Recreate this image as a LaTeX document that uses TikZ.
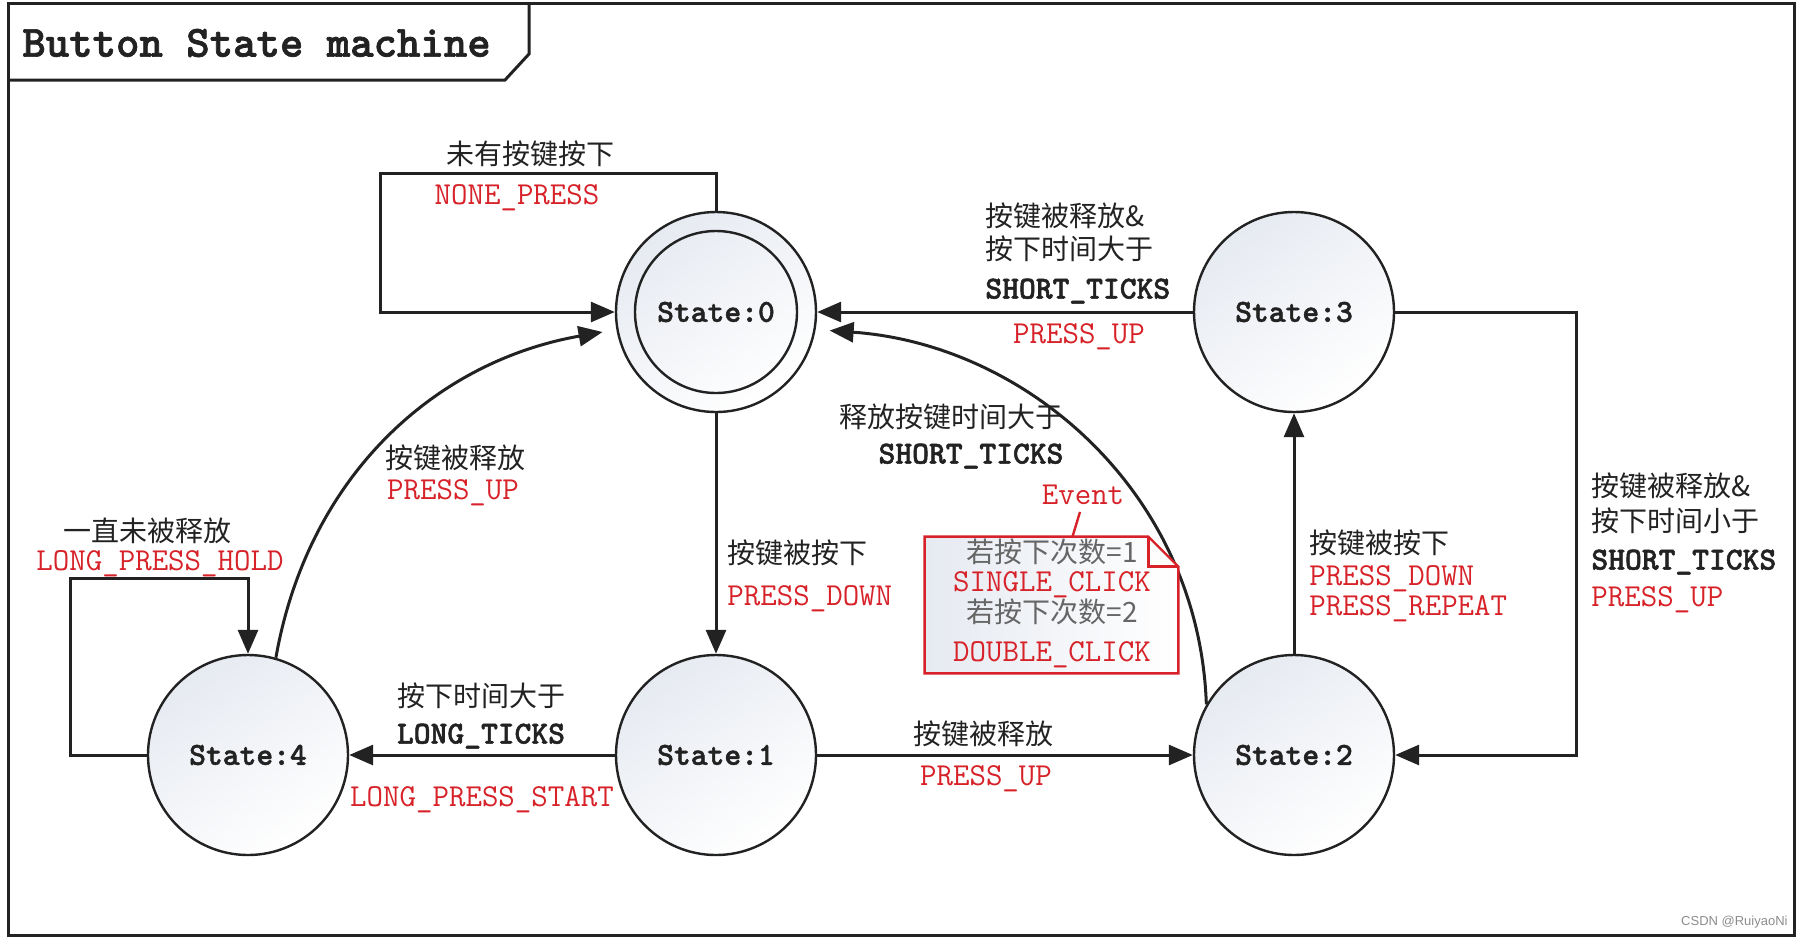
\documentclass[tikz,border=0pt]{standalone}
\usepackage{fontspec}
\newfontfamily\cjk{Noto Sans CJK SC}
\newfontfamily\wmark{Liberation Sans}
\newfontfamily\monobf{lmmonolt10-bold.otf}[FakeBold=1.6]
\usetikzlibrary{arrows.meta,calc}
\definecolor{evtred}{RGB}{214,34,40}
\definecolor{stfill}{RGB}{230,234,241}
\definecolor{ink}{RGB}{34,34,34}

\begin{document}
\begin{tikzpicture}[x=0.5pt,y=0.5pt,>={Triangle[length=12pt,width=10pt]},
  stnode/.style={circle,draw=ink,line width=1.2pt,minimum size=100pt,inner sep=0pt,top color=stfill,bottom color=white,shading angle=35,text=ink,font=\monobf\fontsize{16}{16}\selectfont},
  cn/.style={inner sep=0pt,text=ink,text height=12.3pt,text depth=1.7pt,font=\cjk\fontsize{14}{14}\selectfont},
  evt/.style={inner sep=0pt,text=evtred,text height=11pt,text depth=1.5pt,font=\ttfamily\fontsize{16}{16}\selectfont},
  tick/.style={inner sep=0pt,text=ink,text height=11pt,text depth=1.5pt,font=\monobf\fontsize{16}{16}\selectfont},
  link/.style={->,line width=1.5pt,draw=ink}]
  \useasboundingbox (0,0) rectangle (1800,-939);
  \draw[line width=1.5pt,draw=ink] (8,-3) rectangle (1794,-935);
  \draw[line width=1.5pt,draw=ink] (8,-80) -- (505,-80) -- (529,-54) -- (529,-3);
  \node[anchor=west,inner sep=0pt,text=ink,font=\monobf\fontsize{22.3}{23}\selectfont] (title) at (22,-43) {Button State machine};

  \node[stnode] (s0) at (716,-312) {State:0};
  \draw[line width=1.2pt,draw=ink] (s0.center) circle[radius=40.5pt];
  \node[stnode] (s3) at (1294,-312) {State:3};
  \node[stnode] (s4) at (248,-755) {State:4};
  \node[stnode] (s1) at (716,-755) {State:1};
  \node[stnode] (s2) at (1294,-755) {State:2};

  \draw[link] (s0.north) |- (380,-173) |- (s0.west);
  \draw[link] (s3.west) -- (s0.east);
  \draw[link,shorten >=7pt] (s2.150) to[out=92,in=-4] (s0.-10);
  \draw[link] (s0.south) -- (s1.north);
  \draw[link] (s1.west) -- (s4.east);
  \draw[link] (s1.east) -- (s2.west);
  \draw[link] (s2.north) -- (s3.south);
  \draw[link] (s3.east) -- ++(181,0) |- (s2.east);
  \draw[link,shorten >=7pt] (s4.74) to[out=80,in=190] (s0.190);
  \draw[link] (s4.west) -- ++(-76,0) |- ([yshift=37.5pt]s4.north) -- (s4.north);

  \node[cn] (none1) at (530,-154) {未有按键按下};
  \node[evt] (none2) at (517,-195) {NONE\_PRESS};

  \node[cn,anchor=west] (up1) at (985,-216) {按键被释放\&};
  \node[cn,anchor=west] (up2) at (985,-249) {按下时间大于};
  \node[tick,anchor=west] (up3) at (985,-289) {SHORT\_TICKS};
  \node[evt] (up4) at (1079,-334) {PRESS\_UP};

  \node[cn] (rel1) at (951,-417) {释放按键时间大于};
  \node[tick] (rel2) at (971,-454) {SHORT\_TICKS};

  \node[cn,anchor=west] (dn1) at (727,-553) {按键被按下};
  \node[evt,anchor=west] (dn2) at (727,-596) {PRESS\_DOWN};

  \node[cn] (lg1) at (481,-696) {按下时间大于};
  \node[tick] (lg2) at (481,-734) {LONG\_TICKS};
  \node[evt] (lg3) at (482,-797) {LONG\_PRESS\_START};

  \node[cn] (pu1) at (983,-734) {按键被释放};
  \node[evt] (pu2) at (986,-776) {PRESS\_UP};

  \node[cn,anchor=west] (rp1) at (1309,-543) {按键被按下};
  \node[evt,anchor=west] (rp2) at (1309,-576) {PRESS\_DOWN};
  \node[evt,anchor=west] (rp3) at (1309,-606) {PRESS\_REPEAT};

  \node[cn,anchor=west] (sh1) at (1591,-486) {按键被释放\&};
  \node[cn,anchor=west] (sh2) at (1591,-521) {按下时间小于};
  \node[tick,anchor=west] (sh3) at (1591,-560) {SHORT\_TICKS};
  \node[evt,anchor=west] (sh4) at (1591,-597) {PRESS\_UP};

  \node[cn] (back1) at (455,-458) {按键被释放};
  \node[evt] (back2) at (453,-490) {PRESS\_UP};

  \node[cn] (hold1) at (147,-531) {一直未被释放};
  \node[evt] (hold2) at (160,-561) {LONG\_PRESS\_HOLD};

  \node[minimum width=126.5pt,minimum height=68pt,inner sep=0pt] (note) at (1051.5,-605) {};
  \fill[left color=stfill,right color=white] (note.north west) -- ($(note.north east)+(-30,0)$) -- ($(note.north east)+(0,-30)$) -- (note.south east) -- (note.south west) -- cycle;
  \draw[evtred,line width=1.2pt,line join=miter] (note.north west) -- ($(note.north east)+(-30,0)$) -- ($(note.north east)+(0,-30)$) -- (note.south east) -- (note.south west) -- cycle;
  \draw[evtred,line width=1.2pt] ($(note.north east)+(-30,0)$) |- ($(note.north east)+(0,-30)$);
  \node[evt] (event) at (1083,-495) {Event};
  \draw[evtred,line width=1.2pt] ([xshift=-1.5pt,yshift=-2pt]event.south) -- ([xshift=10.5pt]note.north);
  \node[cn,text=black!60] (n1) at (1052,-552) {若按下次数=1};
  \node[evt] (n2) at (1052,-582) {SINGLE\_CLICK};
  \node[cn,text=black!60] (n3) at (1052,-612) {若按下次数=2};
  \node[evt] (n4) at (1052,-652) {DOUBLE\_CLICK};

  \node[anchor=east,inner sep=0pt,text=black!45,font=\wmark\fontsize{6.5}{7}\selectfont] (mark) at (1788,-922) {CSDN @RuiyaoNi};
\end{tikzpicture}
\end{document}
